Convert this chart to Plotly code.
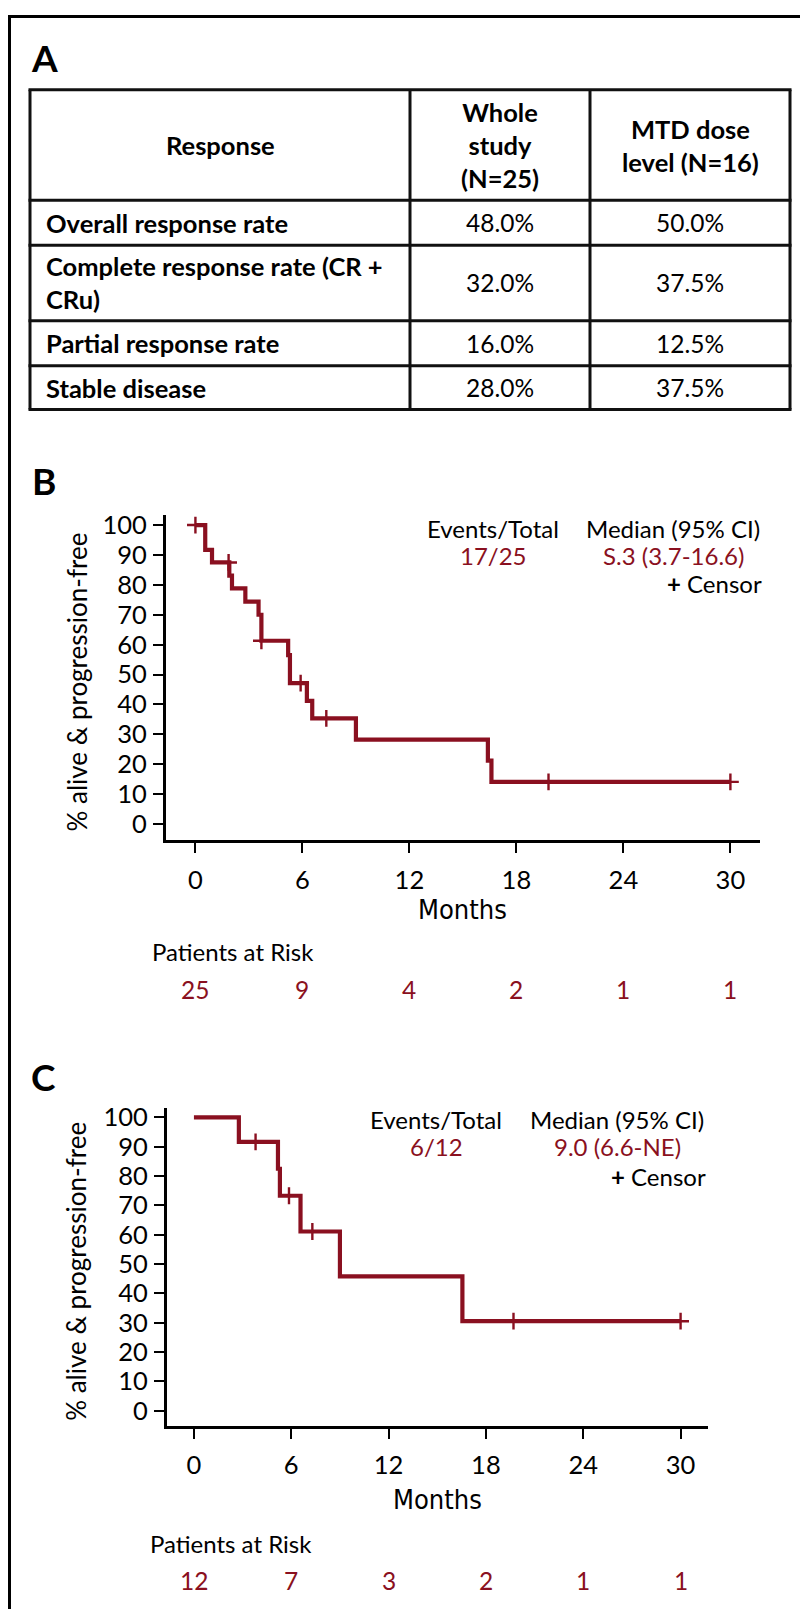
import plotly.graph_objects as go

# ---------------- data ----------------
table_header = ["Response", "Whole<br>study<br>(N=25)", "MTD dose<br>level (N=16)"]
table_rows = ["Overall response rate", "Complete response rate (CR +<br>CRu)",
              "Partial response rate", "Stable disease"]
whole_study = ["48.0%", "32.0%", "16.0%", "28.0%"]
mtd_level = ["50.0%", "37.5%", "12.5%", "37.5%"]

# Panel B (whole study) KM curve
b_time = [0, 0.55, 0.93, 1.9, 2.05, 2.8, 3.54, 3.7, 5.2, 5.3, 6.25, 6.55, 9.0, 16.4, 16.6, 30]
b_surv = [100, 91.7, 87.5, 83.1, 78.8, 74.4, 70.0, 61.3, 56.5, 47.1, 41.2, 35.3, 28.2, 21.2, 14.1, 14.1]
b_cens_time = [0, 1.86, 3.7, 5.9, 7.34, 19.8, 30]
b_cens_surv = [100, 87.5, 61.3, 47.1, 35.3, 14.1, 14.1]
b_events = "17/25"
b_median = "S.3 (3.7-16.6)"
b_risk = [25, 9, 4, 2, 1, 1]

# Panel C (MTD dose level) KM curve
c_time = [0, 2.77, 5.18, 5.3, 6.57, 9.0, 16.55, 30]
c_surv = [100, 91.7, 82.5, 73.3, 61.1, 45.8, 30.5, 30.5]
c_cens_time = [3.8, 5.86, 7.3, 19.7, 30]
c_cens_surv = [91.7, 73.3, 61.1, 30.5, 30.5]
c_events = "6/12"
c_median = "9.0 (6.6-NE)"
c_risk = [12, 7, 3, 2, 1, 1]

risk_ticks = [0, 6, 12, 18, 24, 30]

# ---------------- style ----------------
W, H = 808, 1609
RED = "#8a1020"
FONT = "Lato"
NARROW = "Liberation Sans Narrow, DejaVu Sans Condensed, Lato"


def px(x):
    return x / W


def py(y):
    return 1 - y / H


fig = go.Figure()
shapes = []
ann = []

# outer frame
shapes.append(dict(type="rect", xref="paper", yref="paper", x0=px(1.5), x1=px(803.5),
                   y0=py(1606), y1=py(2.5), line=dict(color="black", width=3)))

# ---------------- Table A ----------------
tab_x = [22, 402, 582, 782]
tab_y = [76, 187, 232, 308, 353, 397]
for yy in tab_y:
    shapes.append(dict(type="line", xref="paper", yref="paper", x0=px(tab_x[0] - 1.5), x1=px(tab_x[-1] + 1.5),
                       y0=py(yy), y1=py(yy), line=dict(color="#111", width=3)))
for xx in tab_x:
    shapes.append(dict(type="line", xref="paper", yref="paper", x0=px(xx), x1=px(xx),
                       y0=py(tab_y[0]), y1=py(tab_y[-1]), line=dict(color="#111", width=3)))

for lbl, lx, ly in [("A", 21, 44), ("B", 22, 468), ("C", 21, 1066)]:
    ann.append(dict(text="<b>" + lbl + "</b>", x=px(lx), y=py(ly), xref="paper", yref="paper",
                    xanchor="left", yanchor="middle", showarrow=False,
                    font=dict(family=FONT, size=37, color="black")))

hy = (tab_y[0] + tab_y[1]) / 2
for i, htxt in enumerate(table_header):
    cx = (tab_x[i] + tab_x[i + 1]) / 2
    ann.append(dict(text="<b>" + htxt + "</b>", x=px(cx), y=py(hy), xref="paper", yref="paper",
                    xanchor="center", yanchor="middle", showarrow=False, align="center",
                    font=dict(family=FONT, size=25.5, color="black")))

for r in range(len(table_rows)):
    cy = (tab_y[r + 1] + tab_y[r + 2]) / 2
    ann.append(dict(text="<b>" + table_rows[r] + "</b>", x=px(tab_x[0] + 14), y=py(cy),
                    xref="paper", yref="paper", xanchor="left", yanchor="middle",
                    showarrow=False, align="left",
                    font=dict(family=FONT, size=25.5, color="black")))
    for j, col in enumerate([whole_study, mtd_level]):
        cx = (tab_x[j + 1] + tab_x[j + 2]) / 2
        ann.append(dict(text=col[r], x=px(cx), y=py(cy), xref="paper", yref="paper",
                        xanchor="center", yanchor="middle", showarrow=False,
                        font=dict(family=FONT, size=24.5, color="black")))

# ---------------- KM panels ----------------
panels = [
    dict(ax="", times=b_time, surv=b_surv, ct=b_cens_time, cs=b_cens_surv,
         xpix=(158, 752), ypix=(503, 829), xrange=[-1.65, 31.66], yrange=[-5.33, 103.33],
         events=b_events, median=b_median, risk=b_risk,
         leg_x=(485, 665, 756), leg_y=(516, 544, 572),
         months_y=899, ytitle_x=69, par_y=941, par_x=142, risk_y=979),
    dict(ax="2", times=c_time, surv=c_surv, ct=c_cens_time, cs=c_cens_surv,
         xpix=(159, 700), ypix=(1098, 1417), xrange=[-1.66, 31.69], yrange=[-5.16, 103.26],
         events=c_events, median=c_median, risk=c_risk,
         leg_x=(428, 609, 700), leg_y=(1110, 1137, 1167),
         months_y=1491, ytitle_x=68, par_y=1535, par_x=140, risk_y=1572),
]

layout_axes = {}
for p in panels:
    xa = "x" + p["ax"]
    ya = "y" + p["ax"]
    fig.add_trace(go.Scatter(x=p["times"], y=p["surv"], mode="lines", line_shape="hv",
                             line=dict(color=RED, width=4.2), xaxis=xa, yaxis=ya,
                             showlegend=False, hoverinfo="skip"))
    fig.add_trace(go.Scatter(x=p["ct"], y=p["cs"], mode="markers",
                             marker=dict(symbol="cross-thin", size=12, color=RED,
                                         line=dict(color=RED, width=2.4)),
                             xaxis=xa, yaxis=ya, showlegend=False, hoverinfo="skip"))
    common = dict(showline=True, linecolor="black", linewidth=3.2, ticks="outside",
                  ticklen=10, tickwidth=2.2, tickcolor="black", showgrid=False,
                  zeroline=False, tickfont=dict(family=FONT, size=25.5, color="black"))
    layout_axes["xaxis" + p["ax"]] = dict(
        domain=[px(p["xpix"][0]), px(p["xpix"][1])], range=p["xrange"],
        tickvals=risk_ticks, anchor=ya, ticklabelstandoff=5, **common)
    layout_axes["yaxis" + p["ax"]] = dict(
        domain=[py(p["ypix"][1]), py(p["ypix"][0])], range=p["yrange"],
        tickvals=list(range(0, 101, 10)), anchor=xa, ticklabelstandoff=1, **common)

    xmid = (p["xpix"][0] + p["xpix"][1]) / 2
    ymid = (p["ypix"][0] + p["ypix"][1]) / 2
    ann.append(dict(text="Months", x=px(xmid), y=py(p["months_y"]), xref="paper", yref="paper",
                    xanchor="center", yanchor="middle", showarrow=False,
                    font=dict(family=NARROW, size=27, color="black")))
    ann.append(dict(text="% alive & progression-free", x=px(p["ytitle_x"]), y=py(ymid + 5),
                    xref="paper", yref="paper", xanchor="center", yanchor="middle",
                    textangle=-90, showarrow=False,
                    font=dict(family=FONT, size=26, color="black")))
    lx1, lx2, lxr = p["leg_x"]
    ly1, ly2, ly3 = p["leg_y"]
    ann.append(dict(text="Events/Total", x=px(lx1), y=py(ly1), xref="paper", yref="paper",
                    xanchor="center", yanchor="middle", showarrow=False,
                    font=dict(family=FONT, size=24, color="black")))
    ann.append(dict(text="Median (95% CI)", x=px(lx2), y=py(ly1), xref="paper", yref="paper",
                    xanchor="center", yanchor="middle", showarrow=False,
                    font=dict(family=FONT, size=24, color="black")))
    ann.append(dict(text=p["events"], x=px(lx1), y=py(ly2), xref="paper", yref="paper",
                    xanchor="center", yanchor="middle", showarrow=False,
                    font=dict(family=FONT, size=24, color=RED)))
    ann.append(dict(text=p["median"], x=px(lx2), y=py(ly2), xref="paper", yref="paper",
                    xanchor="center", yanchor="middle", showarrow=False,
                    font=dict(family=FONT, size=24, color=RED)))
    ann.append(dict(text="<b>+</b> Censor", x=px(lxr), y=py(ly3), xref="paper", yref="paper",
                    xanchor="right", yanchor="middle", showarrow=False,
                    font=dict(family=FONT, size=24, color="black")))
    ann.append(dict(text="Patients at Risk", x=px(p["par_x"]), y=py(p["par_y"]), xref="paper",
                    yref="paper", xanchor="left", yanchor="middle", showarrow=False,
                    font=dict(family=FONT, size=24, color="black")))
    for t, n in zip(risk_ticks, p["risk"]):
        ann.append(dict(text=str(n), x=t, y=py(p["risk_y"]), xref=xa, yref="paper",
                        xanchor="center", yanchor="middle", showarrow=False,
                        font=dict(family=FONT, size=24.5, color=RED)))

fig.update_layout(width=W, height=H, autosize=False, margin=dict(l=0, r=0, t=0, b=0),
                  paper_bgcolor="white", plot_bgcolor="white", shapes=shapes,
                  annotations=ann, **layout_axes)

fig.write_html("out.html")
